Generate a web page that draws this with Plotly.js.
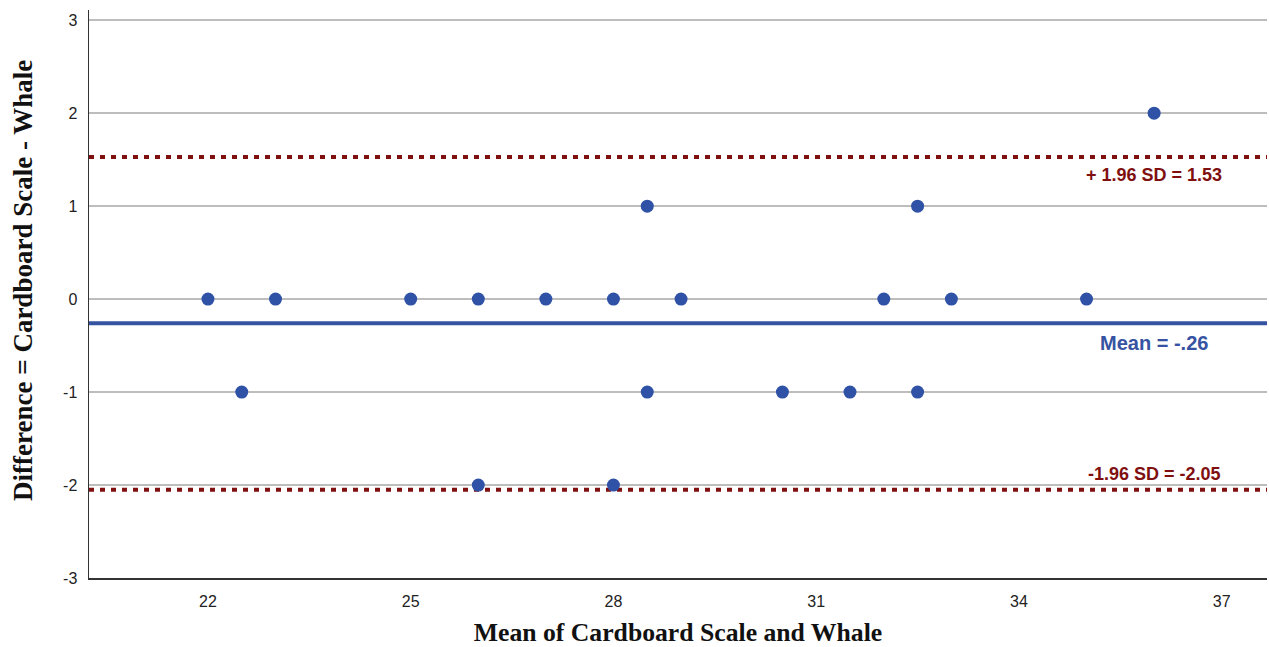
<!DOCTYPE html>
<html>
<head>
<meta charset="utf-8">
<script src="https://cdn.plot.ly/plotly-3.0.1.min.js"></script>
<style>html,body{margin:0;padding:0;background:#fff;}#chart{width:1269px;height:647px;}</style>
</head>
<body>
<div id="chart"></div>
<script>
const meanValues = [22, 23, 25, 26, 27, 28, 29, 32, 33, 35, 22.5, 28.5, 30.5, 31.5, 32.5, 26, 28, 28.5, 32.5, 36];
const diffValues = [0, 0, 0, 0, 0, 0, 0, 0, 0, 0, -1, -1, -1, -1, -1, -2, -2, 1, 1, 2];
const meanDiff = -0.26;
const upperLoA = 1.53;
const lowerLoA = -2.05;
const xTicks = [22, 25, 28, 31, 34, 37];
const yTicks = [-3, -2, -1, 0, 1, 2, 3];
const labelUpper = "+ 1.96 SD = 1.53";
const labelMean = "Mean = -.26";
const labelLower = "-1.96 SD = -2.05";
const labelX = 36;
const xTitle = 'Mean of Cardboard Scale and Whale';
const yTitle = 'Difference = Cardboard Scale - Whale';

const xr = [20.24, 37.67];
const red = '#801010';
const blue = '#3653a2';
const serif = 'Liberation Serif, Times New Roman, serif';

const traces = [
  {x: xr, y: [upperLoA, upperLoA], mode: 'lines', line: {color: red, width: 4, dash: '5px,6px'}, hoverinfo: 'skip'},
  {x: xr, y: [lowerLoA, lowerLoA], mode: 'lines', line: {color: red, width: 4, dash: '5px,6px'}, hoverinfo: 'skip'},
  {x: xr, y: [meanDiff, meanDiff], mode: 'lines', line: {color: blue, width: 4}, hoverinfo: 'skip'},
  {x: meanValues, y: diffValues, mode: 'markers', marker: {color: '#2f52a6', size: 13}}
];

const layout = {
  width: 1269, height: 647,
  margin: {l: 89, r: 2, t: 10, b: 69},
  showlegend: false,
  paper_bgcolor: '#fff', plot_bgcolor: '#fff',
  font: {family: 'Arial, Liberation Sans, sans-serif', color: '#222', size: 16},
  xaxis: {
    range: xr, tickvals: xTicks, ticktext: xTicks.map(String),
    showgrid: false, zeroline: false, showline: true, linecolor: '#333', linewidth: 1.5,
    ticks: '', ticklabelstandoff: 8,
    tickfont: {size: 16, color: '#222'},
    title: {text: xTitle, font: {family: serif, size: 25.7, color: '#111', weight: 'bold'}, standoff: 14}
  },
  yaxis: {
    range: [-3, 3.11], tickvals: yTicks, ticktext: yTicks.map(String),
    showgrid: true, gridcolor: '#bdbdbd', gridwidth: 1.5, zeroline: false,
    showline: true, linecolor: '#333', linewidth: 1.5,
    ticks: '', ticklabelstandoff: 7,
    tickfont: {size: 16, color: '#222'}
  },
  annotations: [
    {xref: 'paper', yref: 'paper', x: 0, y: 0.523, xanchor: 'center', yanchor: 'middle', xshift: -66, textangle: -90, text: yTitle, showarrow: false, font: {family: serif, size: 27, color: '#111', weight: 'bold'}},
    {x: labelX, y: upperLoA, text: labelUpper, showarrow: false, yanchor: 'top', yshift: -6, font: {family: 'Arial, Liberation Sans, sans-serif', size: 18, color: red, weight: 'bold'}},
    {x: labelX, y: meanDiff, text: labelMean, showarrow: false, yanchor: 'top', yshift: -7, font: {family: 'Arial, Liberation Sans, sans-serif', size: 20, color: blue, weight: 'bold'}},
    {x: labelX, y: lowerLoA, text: labelLower, showarrow: false, yanchor: 'bottom', yshift: 4, font: {family: 'Arial, Liberation Sans, sans-serif', size: 18, color: red, weight: 'bold'}}
  ]
};

Plotly.newPlot('chart', traces, layout, {displayModeBar: false, staticPlot: true});
</script>
</body>
</html>
